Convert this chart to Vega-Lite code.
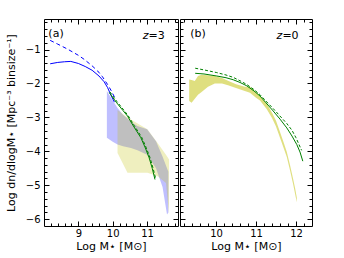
{
  "$schema": "https://vega.github.io/schema/vega-lite/v6.json",
  "padding": {"left": 5, "top": 18, "right": 5, "bottom": 5},
  "background": "white",
  "config": {
    "view": {"stroke": null},
    "font": "DejaVu Sans",
    "axis": {
      "domain": true, "domainOpacity": 0, "grid": false, "ticks": true, "tickColor": "#000000", "tickWidth": 1, "zindex": 1, "labelOverlap": false, "labelBound": false, "labelFlush": false,
      "labelFont": "DejaVu Sans", "labelFontSize": 10, "labelColor": "#000000",
      "titleFont": "DejaVu Sans", "titleFontSize": 11, "titleFontWeight": "normal", "titleColor": "#000000"
    }
  },
  "datasets": {
    "a_blue_band": [
      {"x": 9.83, "lo": -3.6, "hi": -2.22},
      {"x": 10.0, "lo": -3.72, "hi": -2.5},
      {"x": 10.14, "lo": -3.8, "hi": -2.72},
      {"x": 10.3, "lo": -3.85, "hi": -2.92},
      {"x": 10.53, "lo": -3.9, "hi": -3.12},
      {"x": 10.72, "lo": -3.97, "hi": -3.25},
      {"x": 11.0, "lo": -4.1, "hi": -3.35},
      {"x": 11.26, "lo": -4.5, "hi": -3.7},
      {"x": 11.45, "lo": -5.05, "hi": -4.15},
      {"x": 11.58, "lo": -5.86, "hi": -4.5},
      {"x": 11.62, "lo": -5.8, "hi": -4.6}
    ],
    "a_yellow_band": [
      {"x": 10.14, "lo": -4.05, "hi": -2.78},
      {"x": 10.43, "lo": -4.63, "hi": -3.0},
      {"x": 11.01, "lo": -4.63, "hi": -3.35},
      {"x": 11.3, "lo": -4.73, "hi": -3.75},
      {"x": 11.55, "lo": -4.93, "hi": -4.1},
      {"x": 11.64, "lo": -5.86, "hi": -4.24}
    ],
    "a_blue_solid": [
      {"x": 8.18, "y": -1.42}, {"x": 8.4, "y": -1.38}, {"x": 8.6, "y": -1.36}, {"x": 8.78, "y": -1.35},
      {"x": 9.0, "y": -1.41}, {"x": 9.2, "y": -1.5}, {"x": 9.4, "y": -1.61}, {"x": 9.6, "y": -1.78},
      {"x": 9.75, "y": -1.95}, {"x": 9.85, "y": -2.12}, {"x": 9.95, "y": -2.35}, {"x": 10.05, "y": -2.55}
    ],
    "a_blue_dashed": [
      {"x": 8.18, "y": -0.73}, {"x": 8.4, "y": -0.84}, {"x": 8.69, "y": -0.99}, {"x": 9.0, "y": -1.17},
      {"x": 9.17, "y": -1.29}, {"x": 9.4, "y": -1.48}, {"x": 9.56, "y": -1.63}, {"x": 9.7, "y": -1.8},
      {"x": 9.85, "y": -2.03}, {"x": 9.95, "y": -2.2}, {"x": 10.05, "y": -2.4}
    ],
    "a_green_solid": [
      {"x": 9.9, "y": -2.27}, {"x": 10.1, "y": -2.55}, {"x": 10.3, "y": -2.8}, {"x": 10.43, "y": -2.96},
      {"x": 10.6, "y": -3.25}, {"x": 10.82, "y": -3.6}, {"x": 10.95, "y": -3.9}, {"x": 11.06, "y": -4.19},
      {"x": 11.15, "y": -4.5}, {"x": 11.23, "y": -4.83}
    ],
    "a_green_dashed": [
      {"x": 9.92, "y": -2.25}, {"x": 10.12, "y": -2.53}, {"x": 10.32, "y": -2.78}, {"x": 10.45, "y": -2.95},
      {"x": 10.62, "y": -3.23}, {"x": 10.84, "y": -3.58}, {"x": 10.97, "y": -3.88}, {"x": 11.08, "y": -4.17},
      {"x": 11.17, "y": -4.48}, {"x": 11.25, "y": -4.8}
    ],
    "b_yellow_band": [
      {"x": 9.33, "lo": -2.52, "hi": -1.88}, {"x": 9.39, "lo": -2.57, "hi": -1.9}, {"x": 9.47, "lo": -2.45, "hi": -1.93},
      {"x": 9.55, "lo": -2.33, "hi": -1.78}, {"x": 9.64, "lo": -2.25, "hi": -1.74}, {"x": 9.8, "lo": -2.1, "hi": -1.76},
      {"x": 9.97, "lo": -2.0, "hi": -1.78}, {"x": 10.15, "lo": -2.0, "hi": -1.84}, {"x": 10.3, "lo": -2.05, "hi": -1.92},
      {"x": 10.5, "lo": -2.13, "hi": -2.02}, {"x": 10.72, "lo": -2.22, "hi": -2.1}, {"x": 10.85, "lo": -2.27, "hi": -2.1},
      {"x": 11.0, "lo": -2.42, "hi": -2.26}, {"x": 11.1, "lo": -2.5, "hi": -2.36}, {"x": 11.27, "lo": -2.76, "hi": -2.6},
      {"x": 11.4, "lo": -3.02, "hi": -2.86}, {"x": 11.5, "lo": -3.27, "hi": -3.1}, {"x": 11.6, "lo": -3.6, "hi": -3.43},
      {"x": 11.7, "lo": -3.93, "hi": -3.77}, {"x": 11.77, "lo": -4.17, "hi": -4.02}, {"x": 11.85, "lo": -4.56, "hi": -4.4},
      {"x": 11.93, "lo": -4.98, "hi": -4.82}, {"x": 11.98, "lo": -5.27, "hi": -5.1}, {"x": 12.02, "lo": -5.5, "hi": -5.36}
    ],
    "b_green_solid": [
      {"x": 9.48, "y": -1.7}, {"x": 9.7, "y": -1.72}, {"x": 10.02, "y": -1.78}, {"x": 10.25, "y": -1.83},
      {"x": 10.43, "y": -1.89}, {"x": 10.6, "y": -1.97}, {"x": 10.77, "y": -2.07}, {"x": 10.95, "y": -2.22},
      {"x": 11.1, "y": -2.37}, {"x": 11.25, "y": -2.57}, {"x": 11.43, "y": -2.81}, {"x": 11.6, "y": -3.05},
      {"x": 11.77, "y": -3.31}, {"x": 11.9, "y": -3.55}, {"x": 12.02, "y": -3.8}, {"x": 12.1, "y": -4.02},
      {"x": 12.17, "y": -4.29}
    ],
    "b_green_dashed": [
      {"x": 9.48, "y": -1.55}, {"x": 9.7, "y": -1.6}, {"x": 10.02, "y": -1.68}, {"x": 10.25, "y": -1.75},
      {"x": 10.43, "y": -1.82}, {"x": 10.6, "y": -1.92}, {"x": 10.77, "y": -2.03}, {"x": 10.95, "y": -2.18},
      {"x": 11.1, "y": -2.33}, {"x": 11.25, "y": -2.52}, {"x": 11.43, "y": -2.74}, {"x": 11.6, "y": -2.96},
      {"x": 11.77, "y": -3.18}, {"x": 11.9, "y": -3.38}, {"x": 12.0, "y": -3.6}, {"x": 12.14, "y": -3.97}
    ]
  },
  "hconcat": [
    {
      "width": 134, "height": 207,
      "layer": [
        {
          "data": {"name": "a_blue_band"},
          "mark": {"type": "area", "color": "#0000ff", "opacity": 0.25},
          "encoding": {
            "x": {"field": "x", "type": "quantitative", "scale": {"domain": [8, 11.9], "nice": false, "zero": false},
              "axis": {"orient": "bottom", "title": "Log M⋆ [M⊙]", "values": [9, 10, 11], "format": "d", "tickSize": 5, "offset": -5, "tickColor": "#000000", "labelPadding": 2, "titlePadding": 2}},
            "y": {"field": "lo", "type": "quantitative", "scale": {"domain": [-6.2, -0.1], "nice": false, "zero": false},
              "axis": {"orient": "left", "title": "Log dn/dlogM⋆ [Mpc⁻³ binsize⁻¹]", "values": [-6, -5, -4, -3, -2, -1], "format": "d", "tickSize": 5, "offset": -5, "tickColor": "#000000", "labelPadding": 4, "titlePadding": 9}},
            "y2": {"field": "hi"}
          }
        },
        {
          "data": {"name": "a_yellow_band"},
          "mark": {"type": "area", "color": "#bfbf00", "opacity": 0.25},
          "encoding": {
            "x": {"field": "x", "type": "quantitative", "scale": {"domain": [8, 11.9], "nice": false, "zero": false},
              "axis": {"orient": "bottom", "title": null, "labels": false, "values": [8.2,8.4,8.6,8.8,9.2,9.4,9.6,9.8,10.2,10.4,10.6,10.8,11.2,11.4,11.6,11.8], "tickSize": 3, "offset": -3, "tickColor": "#000000"}},
            "y": {"field": "lo", "type": "quantitative", "scale": {"domain": [-6.2, -0.1], "nice": false, "zero": false},
              "axis": {"orient": "left", "title": null, "labels": false, "values": [-5.8,-5.6,-5.4,-5.2,-4.8,-4.6,-4.4,-4.2,-3.8,-3.6,-3.4,-3.2,-2.8,-2.6,-2.4,-2.2,-1.8,-1.6,-1.4,-1.2,-0.8,-0.6,-0.4,-0.2], "tickSize": 3, "offset": -3, "tickColor": "#000000"}},
            "y2": {"field": "hi"}
          }
        },
        {
          "data": {"name": "a_blue_solid"},
          "mark": {"type": "line", "color": "#0000ff", "strokeWidth": 1},
          "encoding": {
            "x": {"field": "x", "type": "quantitative", "scale": {"domain": [8, 11.9], "nice": false, "zero": false},
              "axis": {"orient": "top", "title": null, "labels": false, "values": [9, 10, 11], "tickSize": 5, "offset": -5, "tickColor": "#000000"}},
            "y": {"field": "y", "type": "quantitative", "scale": {"domain": [-6.2, -0.1], "nice": false, "zero": false},
              "axis": {"orient": "right", "title": null, "labels": false, "values": [-6, -5, -4, -3, -2, -1], "tickSize": 5, "offset": -5, "tickColor": "#000000"}}
          }
        },
        {
          "data": {"name": "a_blue_dashed"},
          "mark": {"type": "line", "color": "#0000ff", "strokeWidth": 1, "strokeDash": [4, 3]},
          "encoding": {
            "x": {"field": "x", "type": "quantitative", "scale": {"domain": [8, 11.9], "nice": false, "zero": false},
              "axis": {"orient": "top", "title": null, "labels": false, "values": [8.2,8.4,8.6,8.8,9.2,9.4,9.6,9.8,10.2,10.4,10.6,10.8,11.2,11.4,11.6,11.8], "tickSize": 3, "offset": -3, "tickColor": "#000000"}},
            "y": {"field": "y", "type": "quantitative", "scale": {"domain": [-6.2, -0.1], "nice": false, "zero": false},
              "axis": {"orient": "right", "title": null, "labels": false, "values": [-5.8,-5.6,-5.4,-5.2,-4.8,-4.6,-4.4,-4.2,-3.8,-3.6,-3.4,-3.2,-2.8,-2.6,-2.4,-2.2,-1.8,-1.6,-1.4,-1.2,-0.8,-0.6,-0.4,-0.2], "tickSize": 3, "offset": -3, "tickColor": "#000000"}}
          }
        },
        {
          "data": {"name": "a_green_solid"},
          "mark": {"type": "line", "color": "#008000", "strokeWidth": 1},
          "encoding": {
            "x": {"field": "x", "type": "quantitative", "scale": {"domain": [8, 11.9], "nice": false, "zero": false},
              "axis": {"orient": "bottom", "title": null, "labels": false, "ticks": false, "domainOpacity": 1, "domainColor": "#000000", "domainWidth": 1}},
            "y": {"field": "y", "type": "quantitative", "scale": {"domain": [-6.2, -0.1], "nice": false, "zero": false},
              "axis": {"orient": "left", "title": null, "labels": false, "ticks": false, "domainOpacity": 1, "domainColor": "#000000", "domainWidth": 1}}
          }
        },
        {
          "data": {"name": "a_green_dashed"},
          "mark": {"type": "line", "color": "#008000", "strokeWidth": 1, "strokeDash": [3, 2]},
          "encoding": {
            "x": {"field": "x", "type": "quantitative", "scale": {"domain": [8, 11.9], "nice": false, "zero": false},
              "axis": {"orient": "top", "title": null, "labels": false, "ticks": false, "domainOpacity": 1, "domainColor": "#000000", "domainWidth": 1}},
            "y": {"field": "y", "type": "quantitative", "scale": {"domain": [-6.2, -0.1], "nice": false, "zero": false},
              "axis": {"orient": "right", "title": null, "labels": false, "ticks": false, "domainOpacity": 1, "domainColor": "#000000", "domainWidth": 1}}
          }
        },
        {
          "data": {"values": [{}]},
          "mark": {"type": "text", "text": "(a)", "fontSize": 11, "font": "DejaVu Sans", "color": "#000000"},
          "encoding": {
            "x": {"datum": 8.35, "type": "quantitative", "scale": {"domain": [8, 11.9], "nice": false, "zero": false}, "axis": null},
            "y": {"datum": -0.54, "type": "quantitative", "scale": {"domain": [-6.2, -0.1], "nice": false, "zero": false}, "axis": null}
          }
        },
        {
          "data": {"values": [{}]},
          "mark": {"type": "text", "text": "z", "align": "right", "fontSize": 11, "font": "DejaVu Sans", "fontStyle": "italic", "color": "#000000"},
          "encoding": {
            "x": {"datum": 11.04, "type": "quantitative", "scale": {"domain": [8, 11.9], "nice": false, "zero": false}, "axis": null},
            "y": {"datum": -0.6, "type": "quantitative", "scale": {"domain": [-6.2, -0.1], "nice": false, "zero": false}, "axis": null}
          }
        },
        {
          "data": {"values": [{}]},
          "mark": {"type": "text", "text": "=3", "align": "left", "fontSize": 11, "font": "DejaVu Sans", "color": "#000000"},
          "encoding": {
            "x": {"datum": 11.04, "type": "quantitative", "scale": {"domain": [8, 11.9], "nice": false, "zero": false}, "axis": null},
            "y": {"datum": -0.6, "type": "quantitative", "scale": {"domain": [-6.2, -0.1], "nice": false, "zero": false}, "axis": null}
          }
        }
      ],
      "resolve": {"axis": {"x": "independent", "y": "independent"}}
    },
    {
      "width": 132, "height": 207,
      "layer": [
        {
          "data": {"name": "b_yellow_band"},
          "mark": {"type": "area", "color": "#bfbf00", "opacity": 0.5},
          "encoding": {
            "x": {"field": "x", "type": "quantitative", "scale": {"domain": [9.1, 12.4], "nice": false, "zero": false},
              "axis": {"orient": "bottom", "title": "Log M⋆ [M⊙]", "values": [10, 11, 12], "format": "d", "tickSize": 5, "offset": -5, "tickColor": "#000000", "labelPadding": 2, "titlePadding": 2}},
            "y": {"field": "lo", "type": "quantitative", "scale": {"domain": [-6.2, -0.1], "nice": false, "zero": false},
              "axis": {"orient": "left", "title": null, "labels": false, "values": [-6, -5, -4, -3, -2, -1], "tickSize": 5, "offset": -5, "tickColor": "#000000"}},
            "y2": {"field": "hi"}
          }
        },
        {
          "data": {"name": "b_green_solid"},
          "mark": {"type": "line", "color": "#008000", "strokeWidth": 1},
          "encoding": {
            "x": {"field": "x", "type": "quantitative", "scale": {"domain": [9.1, 12.4], "nice": false, "zero": false},
              "axis": {"orient": "bottom", "title": null, "labels": false, "values": [9.2,9.4,9.6,9.8,10.2,10.4,10.6,10.8,11.2,11.4,11.6,11.8,12.2], "tickSize": 3, "offset": -3, "tickColor": "#000000"}},
            "y": {"field": "y", "type": "quantitative", "scale": {"domain": [-6.2, -0.1], "nice": false, "zero": false},
              "axis": {"orient": "left", "title": null, "labels": false, "values": [-5.8,-5.6,-5.4,-5.2,-4.8,-4.6,-4.4,-4.2,-3.8,-3.6,-3.4,-3.2,-2.8,-2.6,-2.4,-2.2,-1.8,-1.6,-1.4,-1.2,-0.8,-0.6,-0.4,-0.2], "tickSize": 3, "offset": -3, "tickColor": "#000000"}}
          }
        },
        {
          "data": {"name": "b_green_dashed"},
          "mark": {"type": "line", "color": "#008000", "strokeWidth": 1, "strokeDash": [3, 2]},
          "encoding": {
            "x": {"field": "x", "type": "quantitative", "scale": {"domain": [9.1, 12.4], "nice": false, "zero": false},
              "axis": {"orient": "top", "title": null, "labels": false, "values": [10, 11, 12], "tickSize": 5, "offset": -5, "tickColor": "#000000"}},
            "y": {"field": "y", "type": "quantitative", "scale": {"domain": [-6.2, -0.1], "nice": false, "zero": false},
              "axis": {"orient": "right", "title": null, "labels": false, "values": [-6, -5, -4, -3, -2, -1], "tickSize": 5, "offset": -5, "tickColor": "#000000"}}
          }
        },
        {
          "data": {"values": [{}]},
          "mark": {"type": "text", "text": "(b)", "fontSize": 11, "font": "DejaVu Sans", "color": "#000000"},
          "encoding": {
            "x": {"datum": 9.55, "type": "quantitative", "scale": {"domain": [9.1, 12.4], "nice": false, "zero": false},
              "axis": {"orient": "top", "title": null, "labels": false, "values": [9.2,9.4,9.6,9.8,10.2,10.4,10.6,10.8,11.2,11.4,11.6,11.8,12.2], "tickSize": 3, "offset": -3, "tickColor": "#000000"}},
            "y": {"datum": -0.54, "type": "quantitative", "scale": {"domain": [-6.2, -0.1], "nice": false, "zero": false},
              "axis": {"orient": "right", "title": null, "labels": false, "values": [-5.8,-5.6,-5.4,-5.2,-4.8,-4.6,-4.4,-4.2,-3.8,-3.6,-3.4,-3.2,-2.8,-2.6,-2.4,-2.2,-1.8,-1.6,-1.4,-1.2,-0.8,-0.6,-0.4,-0.2], "tickSize": 3, "offset": -3, "tickColor": "#000000"}}
          }
        },
        {
          "data": {"values": [{}]},
          "mark": {"type": "text", "text": "z", "align": "right", "fontSize": 11, "font": "DejaVu Sans", "fontStyle": "italic", "color": "#000000"},
          "encoding": {
            "x": {"datum": 11.66, "type": "quantitative", "scale": {"domain": [9.1, 12.4], "nice": false, "zero": false},
              "axis": {"orient": "bottom", "title": null, "labels": false, "ticks": false, "domainOpacity": 1, "domainColor": "#000000", "domainWidth": 1}},
            "y": {"datum": -0.6, "type": "quantitative", "scale": {"domain": [-6.2, -0.1], "nice": false, "zero": false},
              "axis": {"orient": "left", "title": null, "labels": false, "ticks": false, "domainOpacity": 1, "domainColor": "#000000", "domainWidth": 1}}
          }
        },
        {
          "data": {"values": [{}]},
          "mark": {"type": "text", "text": "=0", "align": "left", "fontSize": 11, "font": "DejaVu Sans", "color": "#000000"},
          "encoding": {
            "x": {"datum": 11.66, "type": "quantitative", "scale": {"domain": [9.1, 12.4], "nice": false, "zero": false},
              "axis": {"orient": "top", "title": null, "labels": false, "ticks": false, "domainOpacity": 1, "domainColor": "#000000", "domainWidth": 1}},
            "y": {"datum": -0.6, "type": "quantitative", "scale": {"domain": [-6.2, -0.1], "nice": false, "zero": false},
              "axis": {"orient": "right", "title": null, "labels": false, "ticks": false, "domainOpacity": 1, "domainColor": "#000000", "domainWidth": 1}}
          }
        }
      ],
      "resolve": {"axis": {"x": "independent", "y": "independent"}}
    }
  ],
  "spacing": 0
}
